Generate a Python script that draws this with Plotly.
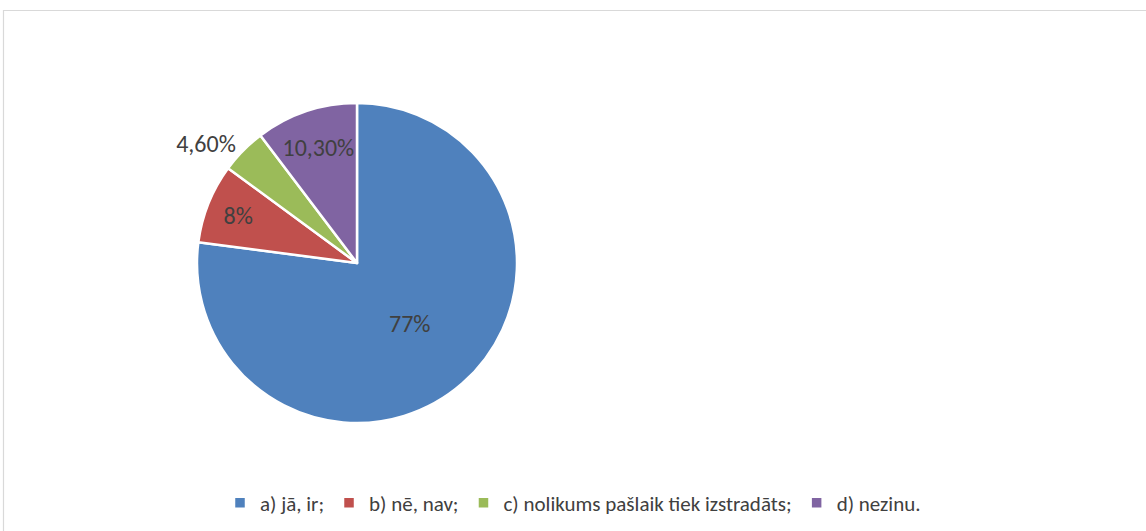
import plotly.graph_objects as go

categories = ["a) jā, ir;", "b) nē, nav;", "c) nolikums pašlaik tiek izstradāts;", "d) nezinu."]
values = [77, 8, 4.6, 10.3]
text_labels = ["77%", "8%", "4,60%", "10,30%"]
colors = ["#4F81BD", "#C0504D", "#9BBB59", "#8064A2"]

W, H = 1146, 531
cx, cy, r = 357, 263, 160
FONT = "Carlito, Lato, Open Sans, sans-serif"

fig = go.Figure(go.Pie(
    labels=categories,
    values=values,
    text=text_labels,
    textinfo="text",
    textposition=["inside", "inside", "outside", "inside"],
    insidetextorientation="horizontal",
    sort=False,
    direction="clockwise",
    rotation=0,
    marker=dict(colors=colors, line=dict(color="white", width=2.5)),
    textfont=dict(family=FONT, size=24, color="#404040"),
    outsidetextfont=dict(family=FONT, size=24, color="#404040"),
    domain=dict(x=[(cx - r) / W, (cx + r) / W], y=[1 - (cy + r) / H, 1 - (cy - r) / H]),
    showlegend=True,
))

fig.update_layout(
    width=W, height=H,
    margin=dict(l=0, r=0, t=0, b=0),
    paper_bgcolor="white",
    plot_bgcolor="white",
    font=dict(family=FONT, color="#404040"),
    legend=dict(
        orientation="h",
        x=0.5, xanchor="center",
        y=1 - 503 / H, yanchor="middle",
        font=dict(size=21, color="#404040"),
        traceorder="normal",
    ),
    shapes=[dict(
        type="rect", xref="paper", yref="paper",
        x0=3.5 / W, x1=1.01, y0=-0.01, y1=1 - 10.5 / H,
        line=dict(color="#D9D9D9", width=1.2),
    )],
)

fig.write_html("out.html", config={"displayModeBar": False},
               post_script="document.body.style.margin='0';")
